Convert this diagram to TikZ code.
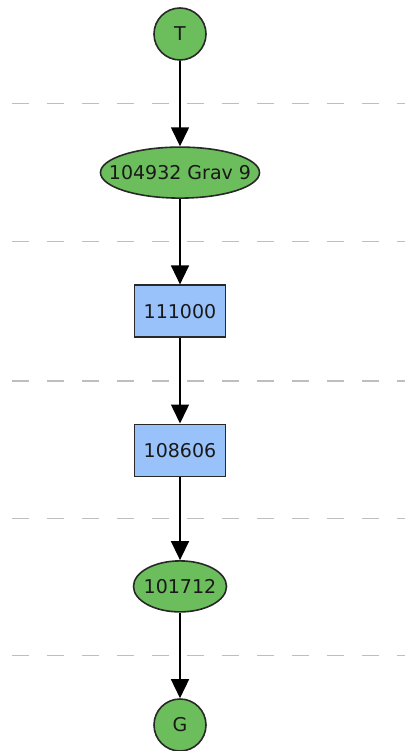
\documentclass[tikz,border=0pt]{standalone}
\usepackage{fontspec}
\setmainfont{DejaVu Sans}
\usepackage{tikz}
\usetikzlibrary{positioning, shapes.geometric, calc, arrows.meta}
\definecolor{pathGreen}{RGB}{108, 190, 92}
\definecolor{pathBlue}{RGB}{153, 194, 250}
\definecolor{pathEdge}{RGB}{40, 40, 40}
\definecolor{pathText}{RGB}{25, 25, 25}
\definecolor{pathRule}{RGB}{190, 190, 190}
\tikzset{
    base/.style={
        font=\fontsize{19}{22}\selectfont,
        text=pathText,
        draw=pathEdge,
        line width=1.6pt,
        align=center
    },
    terminal/.style={
        base,
        circle,
        fill=pathGreen,
        minimum size=52pt,
        inner sep=0pt
    },
    oval/.style={
        base,
        ellipse,
        fill=pathGreen,
        minimum height=51pt,
        inner sep=0pt
    },
    block/.style={
        base,
        rectangle,
        fill=pathBlue,
        minimum width=91pt,
        minimum height=52pt,
        inner sep=0pt
    },
    flow/.style={
        -{Triangle[length=19pt,width=18pt]},
        line width=1.5pt,
        color=black
    },
    rule/.style={
        pathRule,
        line width=1.5pt,
        dash pattern=on 17pt off 18pt
    }
}

\begin{document}
\begin{tikzpicture}[x=1pt, y=1pt, node distance=85.5pt]
    \useasboundingbox (0,0) rectangle (405,-751);

    % Nodes
    \node[terminal] (start) at (180,-34) {T};
    \node[oval, minimum width=159pt, below=of start] (grav) {\makebox[0pt]{104932 Grav 9}};
    \node[block, below=of grav] (b111) {111000};
    \node[block, below=of b111] (b108) {108606};
    \node[oval, minimum width=93pt, below=83pt of b108] (e101) {\makebox[0pt]{101712}};
    \node[terminal, below=of e101] (goal) {G};

    % Level separators
    \foreach \a/\b in {start/grav, grav/b111, b111/b108, b108/e101, e101/goal}{
        \path ($(\a.south)!0.5!(\b.north)$) coordinate (sep);
        \draw[rule] (12,0 |- sep) -- (405,0 |- sep);
    }

    % Edges
    \draw[flow] (start) -- (grav);
    \draw[flow] (grav) -- (b111);
    \draw[flow] (b111) -- (b108);
    \draw[flow] (b108) -- (e101);
    \draw[flow] (e101) -- (goal);
\end{tikzpicture}
\end{document}
